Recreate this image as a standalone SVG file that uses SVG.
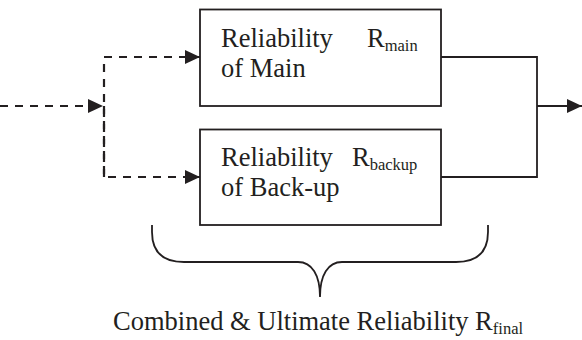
<svg xmlns="http://www.w3.org/2000/svg" width="582" height="340" viewBox="0 0 582 340">
<defs>
<marker id="ah" markerWidth="15" markerHeight="14" refX="15" refY="7" orient="auto" markerUnits="userSpaceOnUse">
<path d="M0,0 L15,7 L0,14 Z" fill="#231f20"/>
</marker>
<style>
.box{fill:#fff;stroke:#231f20;stroke-width:1.8}
.ln{fill:none;stroke:#231f20;stroke-width:1.8}
.dash{fill:none;stroke:#231f20;stroke-width:2.2;stroke-dasharray:8 7}
.t{font-family:'Liberation Serif','Times New Roman',serif;font-size:26.5px;fill:#231f20}
.s{font-size:16.5px}
</style>
</defs>
<g id="connectors">
<path class="dash" d="M0,106 L103,106" marker-end="url(#ah)"/>
<path class="dash" d="M104,177 L104,57 L200,57" marker-end="url(#ah)"/>
<path class="dash" d="M104,106 L104,177 L200,177" marker-end="url(#ah)"/>
<path class="ln" d="M441,57 L537,57 L537,177 L441,177"/>
<path class="ln" d="M537,106 L582,106" stroke-width="2.2" marker-end="url(#ah)"/>
</g>
<g id="main">
<rect class="box" x="200" y="9.5" width="241" height="96.5"/>
<text class="t" x="221" y="47">Reliability</text>
<text class="t" x="221" y="77">of Main</text>
<text class="t" x="367" y="47">R<tspan class="s" dy="4">main</tspan></text>
</g>
<g id="backup">
<rect class="box" x="200" y="129.5" width="241" height="95.5"/>
<text class="t" x="221" y="166">Reliability</text>
<text class="t" x="221" y="196">of Back-up</text>
<text class="t" x="352" y="166">R<tspan class="s" dy="4">backup</tspan></text>
</g>
<g id="brace">
<path class="ln" d="M152,225 L152,232 C152,252 162,262 184,262 L298,262 C312,262 320,275 320,297 C320,275 328,262 342,262 L456,262 C478,262 488,252 488,232 L488,225"/>
</g>
<g id="label">
<text class="t" x="113" y="330">Combined &amp; Ultimate Reliability R<tspan class="s" dy="4">final</tspan></text>
</g>
</svg>
